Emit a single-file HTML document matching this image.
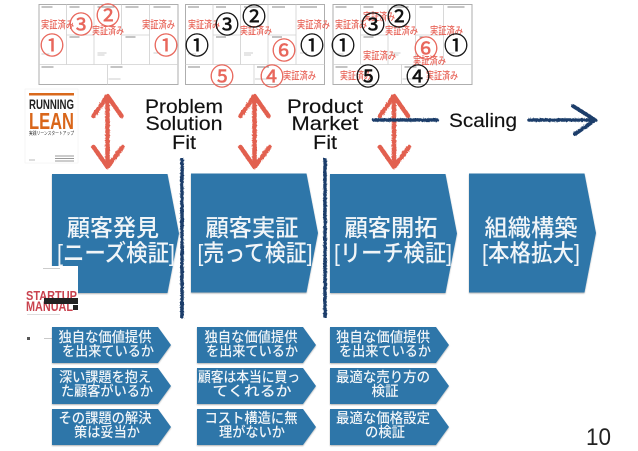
<!DOCTYPE html>
<html lang="ja">
<head>
<meta charset="utf-8">
<style>
html,body{margin:0;padding:0;background:#fff;width:638px;height:451px;overflow:hidden}
svg{display:block;filter:blur(.35px)}
text{font-family:"Liberation Sans","Noto Sans CJK JP",sans-serif}
.w{fill:#f1f5f8;text-anchor:middle;font-weight:500}
.b{font-size:23.500px}
.s{font-size:14px}
.v{fill:#e8675c;font-size:10.500px;font-weight:500}
.rn{fill:#e8675c;stroke:#e8675c;stroke-width:.5px;font-size:24px;text-anchor:middle}
.kn{fill:#111;stroke:#111;stroke-width:.5px;font-size:24px;text-anchor:middle}
.f{fill:#111;font-size:19.500px;text-anchor:middle;stroke:#111;stroke-width:.15px}
</style>
</head>
<body>
<svg width="638" height="451" viewBox="0 0 638 451" xmlns="http://www.w3.org/2000/svg">
<defs>
<filter id="rough" filterUnits="userSpaceOnUse" x="-700" y="0" width="1400" height="500">
<feTurbulence type="fractalNoise" baseFrequency=".6" numOctaves="2" seed="4"/>
<feDisplacementMap in="SourceGraphic" scale="2.200"/>
</filter>
<filter id="sh" x="-5%" y="-5%" width="110%" height="115%">
<feDropShadow dx="0" dy="1" stdDeviation=".8" flood-color="#000" flood-opacity=".3"/>
</filter>
<g id="canvas">
<rect x="0.500" y="0.500" width="139" height="80" fill="#fff" stroke="#aeaeae" stroke-width="1"/>
<path d="M28 .5V60.500M55.500 .5V60.500M83 .5V60.500M111 .5V60.500M28 31H55.500M83 31H111M.5 60.500H139.500M69 60.500V80.500" fill="none" stroke="#cfcfcf" stroke-width=".8"/>
<path d="M3 3H14M31 3H41M59 3H76M87 3H100M115 3H132M31 33H41M87 33H97M3 63H15M72 63H84" stroke="#888" stroke-width="1"/>
<path d="M3 50H11M59 49H68M59 51H66M115 49H122M70 75H82" stroke="#ccc" stroke-width="1"/>
</g>
<polygon id="big" points="0,0 115.500,0 127,59.500 115.500,119 0,119" fill="#2e76a9" filter="url(#sh)"/>
<polygon id="small" points="0,0 106,0 119,18 106,36 0,36" fill="#2e76a9" filter="url(#sh)"/>
<g id="dbl" fill="none" stroke="#e2604f" stroke-width="4.500" stroke-linecap="round" stroke-linejoin="round" filter="url(#rough)">
<path d="M0 97V167"/>
<path d="M-14 116L0 96L14 116"/>
<path d="M-14 147L0 167L15 147"/>
</g>
</defs>

<use href="#canvas" x="38.500" y="4"/>
<use href="#canvas" x="185" y="4"/>
<use href="#canvas" x="332.500" y="4"/>

<!-- Canvas 1 -->
<text class="v" x="41" y="28" textLength="33" lengthAdjust="spacingAndGlyphs">実証済み</text>
<text class="v" x="92" y="34" textLength="32" lengthAdjust="spacingAndGlyphs">実証済み</text>
<text class="v" x="142" y="28" textLength="33" lengthAdjust="spacingAndGlyphs">実証済み</text>
<text class="rn" x="81" y="33">③</text>
<text class="rn" x="108" y="24">②</text>
<text class="rn" x="52" y="54">①</text>
<text class="rn" x="166" y="54">①</text>

<!-- Canvas 2 -->
<text class="v" x="188" y="28" textLength="32" lengthAdjust="spacingAndGlyphs">実証済み</text>
<text class="v" x="240" y="34" textLength="32" lengthAdjust="spacingAndGlyphs">実証済み</text>
<text class="v" x="297" y="28" textLength="33" lengthAdjust="spacingAndGlyphs">実証済み</text>
<text class="v" x="283" y="79" textLength="33" lengthAdjust="spacingAndGlyphs">実証済み</text>
<text class="kn" x="227" y="33">③</text>
<text class="kn" x="254" y="25">②</text>
<text class="kn" x="197" y="54">①</text>
<text class="kn" x="312" y="54">①</text>
<text class="rn" x="284" y="59">⑥</text>
<text class="rn" x="222" y="85">⑤</text>
<text class="rn" x="272" y="85">④</text>

<!-- Canvas 3 -->
<text class="v" x="335" y="28" textLength="32" lengthAdjust="spacingAndGlyphs">実証済み</text>
<text class="v" x="363" y="20" textLength="32" lengthAdjust="spacingAndGlyphs">実証済み</text>
<text class="v" x="385" y="34" textLength="33" lengthAdjust="spacingAndGlyphs">実証済み</text>
<text class="v" x="430" y="34" textLength="33" lengthAdjust="spacingAndGlyphs">実証済み</text>
<text class="v" x="363" y="59" textLength="33" lengthAdjust="spacingAndGlyphs">実証済み</text>
<text class="v" x="413" y="64" textLength="33" lengthAdjust="spacingAndGlyphs">実証済み</text>
<text class="v" x="340" y="79" textLength="32" lengthAdjust="spacingAndGlyphs">実証済み</text>
<text class="v" x="426" y="79" textLength="32" lengthAdjust="spacingAndGlyphs">実証済み</text>
<text class="kn" x="373" y="33">③</text>
<text class="kn" x="399" y="25">②</text>
<text class="kn" x="343" y="54">①</text>
<text class="kn" x="456" y="54">①</text>
<text class="rn" x="426" y="57">⑥</text>
<text class="kn" x="368" y="85">⑤</text>
<text class="kn" x="418" y="85">④</text>

<!-- Running Lean book -->
<rect x="25" y="89" width="53" height="74" fill="#fff" stroke="#eee" stroke-width=".5"/>
<rect x="29" y="93" width="45" height="2.500" fill="#d9691c"/>
<text x="29" y="109" font-size="14" font-weight="700" fill="#222" textLength="45" lengthAdjust="spacingAndGlyphs">RUNNING</text>
<text x="29" y="129" font-size="23" font-weight="700" fill="#d9661a" textLength="45" lengthAdjust="spacingAndGlyphs">LEAN</text>
<text x="29" y="135" font-size="5" fill="#333" textLength="45" lengthAdjust="spacingAndGlyphs">実践リーンスタートアップ</text>
<path d="M55 156H74M55 158.500H74M55 161H74" stroke="#999" stroke-width="1"/>
<path d="M29 160H35" stroke="#bbb" stroke-width="1"/>

<!-- Arrows -->
<use href="#dbl" x="107.500"/>
<use href="#dbl" x="254.500"/>
<use href="#dbl" x="394"/>

<!-- Scaling lines -->
<g fill="none" stroke="#1b3d6b" stroke-linecap="round" filter="url(#rough)">
<path d="M374 120H437" stroke-width="3.500"/>
<path d="M529 120H594" stroke-width="3.500"/>
<path d="M573 106L595 120L575 134" stroke-width="4" stroke-linejoin="round"/>
</g>

<!-- Labels -->
<text class="f" x="184" y="113" textLength="78" lengthAdjust="spacingAndGlyphs">Problem</text>
<text class="f" x="184" y="130" textLength="77" lengthAdjust="spacingAndGlyphs">Solution</text>
<text class="f" x="184" y="149" textLength="24" lengthAdjust="spacingAndGlyphs">Fit</text>
<text class="f" x="325" y="113" textLength="76" lengthAdjust="spacingAndGlyphs">Product</text>
<text class="f" x="325" y="130" textLength="67" lengthAdjust="spacingAndGlyphs">Market</text>
<text class="f" x="325" y="149" textLength="24" lengthAdjust="spacingAndGlyphs">Fit</text>
<text class="f" x="483" y="127" textLength="68" lengthAdjust="spacingAndGlyphs">Scaling</text>

<!-- Big chevrons -->
<use href="#big" x="52" y="174"/>
<use href="#big" x="191" y="173.500"/>
<use href="#big" x="330" y="174"/>
<use href="#big" x="469" y="173.500"/>

<text class="w b" x="113" y="236" textLength="92" lengthAdjust="spacingAndGlyphs">顧客発見</text>
<text class="w b" x="116" y="261" textLength="118" lengthAdjust="spacingAndGlyphs">[ニーズ検証]</text>
<text class="w b" x="252" y="236" textLength="93" lengthAdjust="spacingAndGlyphs">顧客実証</text>
<text class="w b" x="255" y="261" textLength="115" lengthAdjust="spacingAndGlyphs">[売って検証]</text>
<text class="w b" x="391" y="236" textLength="93" lengthAdjust="spacingAndGlyphs">顧客開拓</text>
<text class="w b" x="393" y="261" textLength="118" lengthAdjust="spacingAndGlyphs">[リーチ検証]</text>
<text class="w b" x="531" y="236" textLength="93" lengthAdjust="spacingAndGlyphs">組織構築</text>
<text class="w b" x="531" y="261" textLength="98" lengthAdjust="spacingAndGlyphs">[本格拡大]</text>

<!-- Dividers -->
<g fill="none" stroke="#1b3d6b" stroke-width="3.500" filter="url(#rough)">
<path d="M182 158V318"/>
<path d="M325 158V318"/>
</g>

<!-- Startup Manual book -->
<rect x="25" y="266" width="53" height="51" fill="#fff"/>
<text x="26" y="300" font-size="12.500" font-weight="700" fill="#c9434f" textLength="51" lengthAdjust="spacingAndGlyphs">STARTUP</text>
<text x="26" y="311" font-size="13.500" font-weight="700" fill="#c9434f" textLength="47" lengthAdjust="spacingAndGlyphs">MANUAL</text>
<rect x="44" y="298" width="34" height="6" fill="#222"/>
<rect x="73" y="305" width="5" height="5" fill="#222"/>
<path d="M43 268.500H60" stroke="#ccc" stroke-width="1"/>
<path d="M27 314.500H60" stroke="#ddd" stroke-width="1"/>
<rect x="27" y="337" width="3" height="3" fill="#555"/>
<path d="M44 338.500H52" stroke="#bbb" stroke-width=".8"/>

<!-- Small chevrons -->
<use href="#small" x="52" y="327"/>
<use href="#small" x="52" y="368"/>
<use href="#small" x="52" y="409"/>
<use href="#small" x="197" y="327"/>
<use href="#small" x="197" y="368"/>
<use href="#small" x="197" y="409"/>
<use href="#small" x="330" y="327"/>
<use href="#small" x="330" y="368"/>
<use href="#small" x="330" y="409"/>

<text class="w s" x="105" y="342" textLength="93" lengthAdjust="spacingAndGlyphs">独自な価値提供</text>
<text class="w s" x="108" y="356" textLength="92" lengthAdjust="spacingAndGlyphs">を出来ているか</text>
<text class="w s" x="105" y="382" textLength="92" lengthAdjust="spacingAndGlyphs">深い課題を抱え</text>
<text class="w s" x="107" y="396" textLength="92" lengthAdjust="spacingAndGlyphs">た顧客がいるか</text>
<text class="w s" x="105" y="423" textLength="93" lengthAdjust="spacingAndGlyphs">その課題の解決</text>
<text class="w s" x="107" y="437" textLength="66" lengthAdjust="spacingAndGlyphs">策は妥当か</text>

<text class="w s" x="251" y="342" textLength="93" lengthAdjust="spacingAndGlyphs">独自な価値提供</text>
<text class="w s" x="252" y="356" textLength="92" lengthAdjust="spacingAndGlyphs">を出来ているか</text>
<text class="w s" x="249" y="382" textLength="102" lengthAdjust="spacingAndGlyphs">顧客は本当に買っ</text>
<text class="w s" x="252" y="396" textLength="79" lengthAdjust="spacingAndGlyphs">てくれるか</text>
<text class="w s" x="251" y="423" textLength="93" lengthAdjust="spacingAndGlyphs">コスト構造に無</text>
<text class="w s" x="252" y="437" textLength="66" lengthAdjust="spacingAndGlyphs">理がないか</text>

<text class="w s" x="383" y="342" textLength="94" lengthAdjust="spacingAndGlyphs">独自な価値提供</text>
<text class="w s" x="385" y="356" textLength="92" lengthAdjust="spacingAndGlyphs">を出来ているか</text>
<text class="w s" x="383" y="382" textLength="94" lengthAdjust="spacingAndGlyphs">最適な売り方の</text>
<text class="w s" x="385" y="396" textLength="27" lengthAdjust="spacingAndGlyphs">検証</text>
<text class="w s" x="383" y="423" textLength="94" lengthAdjust="spacingAndGlyphs">最適な価格設定</text>
<text class="w s" x="385" y="437" textLength="40" lengthAdjust="spacingAndGlyphs">の検証</text>

<!-- Page number -->
<text x="586" y="445" font-size="24" fill="#222" textLength="25" lengthAdjust="spacingAndGlyphs">10</text>
</svg>
</body>
</html>
